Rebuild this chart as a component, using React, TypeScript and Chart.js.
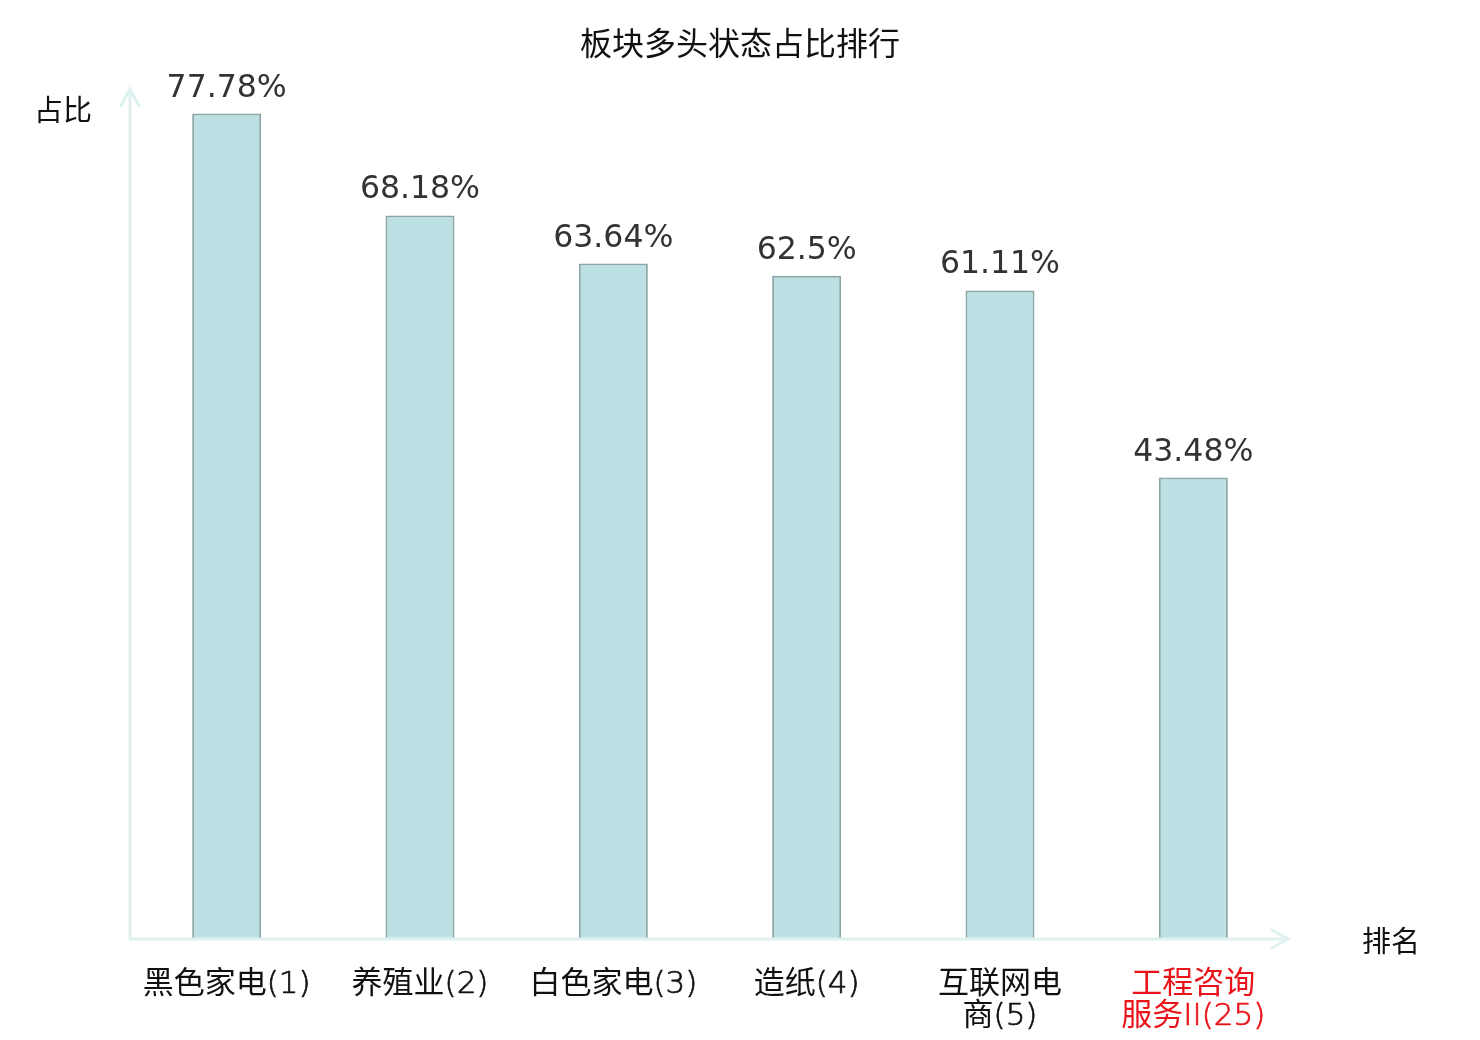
import { useEffect, useRef } from 'react';
import { Chart, registerables } from 'chart.js';

Chart.register(...registerables);

const categories: string[][] = [
  ['黑色家电(1)'],
  ['养殖业(2)'],
  ['白色家电(3)'],
  ['造纸(4)'],
  ['互联网电', '商(5)'],
  ['工程咨询', '服务II(25)'],
];
const values = [77.78, 68.18, 63.64, 62.5, 61.11, 43.48];
const labelColors = ['#111', '#111', '#111', '#111', '#111', '#e8141a'];
const title = '板块多头状态占比排行';
const yName = '占比';
const xName = '排名';

const CJK = '"Noto Sans CJK SC", "Noto Sans", sans-serif';
const LATIN_THIN = '200 31px "DejaVu Sans", sans-serif';
const CJK_LABEL = '31px ' + CJK;
const AXIS = '#dff2ef';

// split a label line into runs of CJK / non-CJK text
function runs(line: string) {
  const out: { text: string; cjk: boolean }[] = [];
  for (const ch of line) {
    const cjk = /[\u3000-\u9fff\uff00-\uffef]/.test(ch);
    const last = out[out.length - 1];
    if (last && last.cjk === cjk) last.text += ch;
    else out.push({ text: ch, cjk });
  }
  return out;
}

// axes with arrows, value labels, category labels, title and axis names
const decor = {
  id: 'decor',
  afterDatasetsDraw(chart: Chart) {
    const { ctx, chartArea } = chart;
    const { left, right, top, bottom } = chartArea;
    ctx.save();

    // axis lines
    ctx.strokeStyle = AXIS;
    ctx.lineWidth = 3;
    ctx.lineCap = 'round';
    ctx.beginPath();
    ctx.moveTo(left, bottom);
    ctx.lineTo(left, top - 1);
    ctx.moveTo(left, bottom);
    ctx.lineTo(right - 2, bottom);
    ctx.stroke();
    ctx.beginPath();
    ctx.moveTo(left - 9, top + 16);
    ctx.lineTo(left, top - 1);
    ctx.lineTo(left + 9, top + 16);
    ctx.moveTo(right - 18, bottom - 9);
    ctx.lineTo(right - 2, bottom);
    ctx.lineTo(right - 18, bottom + 9);
    ctx.stroke();

    // value labels
    ctx.fillStyle = '#333';
    ctx.font = '31.5px "DejaVu Sans", sans-serif';
    ctx.textAlign = 'center';
    ctx.textBaseline = 'alphabetic';
    const meta = chart.getDatasetMeta(0);
    meta.data.forEach((bar: any, i: number) => {
      ctx.fillText(values[i] + '%', bar.x, bar.y - 17);
    });

    // category labels on the x scale
    const xScale = chart.scales.x;
    ctx.textAlign = 'left';
    ctx.textBaseline = 'alphabetic';
    ctx.lineWidth = 0.7;
    ctx.lineJoin = 'round';
    categories.forEach((lines, i) => {
      const cx = xScale.getPixelForTick(i);
      ctx.fillStyle = labelColors[i];
      ctx.strokeStyle = labelColors[i];
      lines.forEach((line, li) => {
        const parts = runs(line).map((r) => {
          ctx.font = r.cjk ? CJK_LABEL : LATIN_THIN;
          return { ...r, w: ctx.measureText(r.text).width };
        });
        const total = parts.reduce((s, p) => s + p.w, 0);
        let x = cx - total / 2;
        const y = bottom + 54 + li * 32;
        parts.forEach((p) => {
          ctx.font = p.cjk ? CJK_LABEL : LATIN_THIN;
          ctx.fillText(p.text, x, y);
          if (!p.cjk) ctx.strokeText(p.text, x, y);
          x += p.w;
        });
      });
    });

    // title + axis names
    ctx.fillStyle = '#111';
    ctx.textAlign = 'center';
    ctx.textBaseline = 'middle';
    ctx.font = '32px ' + CJK;
    ctx.fillText(title, 740, 43);
    ctx.font = '29px ' + CJK;
    ctx.fillText(yName, 63, 110);
    ctx.fillText(xName, 1391, 941);
    ctx.restore();
  },
};

export default function App() {
  const canvasRef = useRef<HTMLCanvasElement>(null);
  const chartRef = useRef<Chart | null>(null);

  useEffect(() => {
    if (!canvasRef.current) return;
    if (chartRef.current) chartRef.current.destroy();

    chartRef.current = new Chart(canvasRef.current, {
      type: 'bar',
      data: {
        labels: categories,
        datasets: [
          {
            data: values,
            backgroundColor: '#bce0e3',
            borderColor: '#8ba7a8',
            borderWidth: 2,
            barPercentage: 0.357,
            categoryPercentage: 1,
          },
        ],
      },
      options: {
        animation: false,
        responsive: false,
        devicePixelRatio: 1,
        layout: { padding: { left: 130, right: 190, top: 90, bottom: 101 } },
        plugins: {
          legend: { display: false },
          tooltip: { enabled: false },
          title: { display: false },
        },
        scales: {
          x: {
            grid: { display: false, drawTicks: false },
            border: { display: false },
            ticks: { display: false },
          },
          y: {
            display: false,
            min: 0,
            max: 80,
          },
        },
      },
      plugins: [decor],
    });

    return () => {
      if (chartRef.current) {
        chartRef.current.destroy();
        chartRef.current = null;
      }
    };
  }, []);

  return (
    <div style={{ position: 'absolute', left: 0, top: 0, width: 1480, height: 1040, background: '#fff' }}>
      <canvas ref={canvasRef} width={1480} height={1040} />
    </div>
  );
}
